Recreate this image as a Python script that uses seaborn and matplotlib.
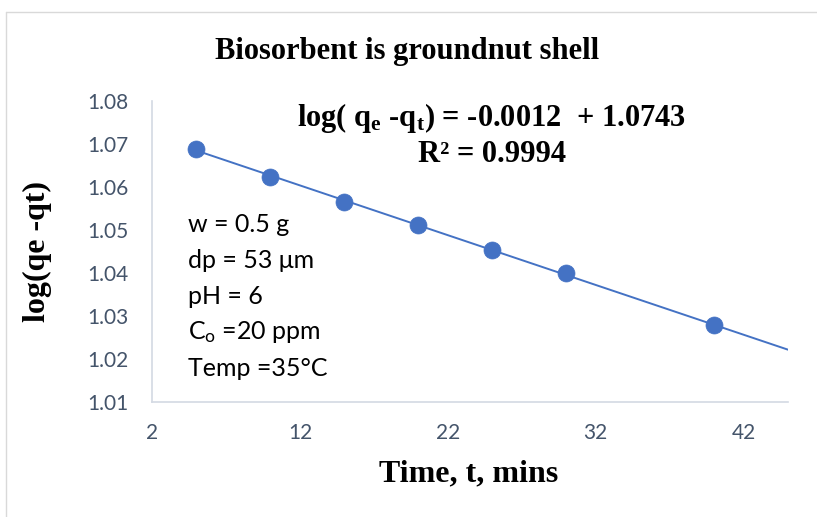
import numpy as np
import pandas as pd
import matplotlib
matplotlib.use("Agg")
import matplotlib.pyplot as plt
from matplotlib.lines import Line2D
import seaborn as sns

# Kinetic data: time (min) vs log(qe - qt)
time_min = [5, 10, 15, 20, 25, 30, 40]
log_qe_qt = [1.0689, 1.0623, 1.0566, 1.0511, 1.0454, 1.0399, 1.0278]

x_ticks = [2, 12, 22, 32, 42]
y_ticks = [1.01, 1.02, 1.03, 1.04, 1.05, 1.06, 1.07, 1.08]

conditions = ["w = 0.5 g", "dp = 53 μm", "pH = 6",
              "C$_{\\mathsf{o}}$ =20 ppm", "Temp =35°C"]

sns.set_theme(style="white")
plt.rcParams["font.family"] = ["Lato", "DejaVu Sans"]
plt.rcParams["text.color"] = "black"
plt.rcParams["mathtext.fontset"] = "custom"
plt.rcParams["mathtext.rm"] = "Liberation Serif:bold"
plt.rcParams["mathtext.it"] = "Liberation Serif:bold"
plt.rcParams["mathtext.bf"] = "Liberation Serif:bold"
plt.rcParams["mathtext.sf"] = "Lato"
plt.rcParams["xtick.major.pad"] = 17
plt.rcParams["ytick.major.pad"] = 17

W, H = 817, 517
fig = plt.figure(figsize=(W / 100, H / 100), dpi=100)
ax = fig.add_axes([152 / W, 1 - 402 / H, (788 - 152) / W, (402 - 101) / H])

df = pd.DataFrame({"t": time_min, "y": log_qe_qt})

# Linear trendline, extended forward to the end of the axis
slope, intercept = np.polyfit(df["t"], df["y"], 1)
trend = pd.DataFrame({"t": [min(time_min), 45.0]})
trend["y"] = intercept + slope * trend["t"]

blue = "#4472C4"
sns.lineplot(data=trend, x="t", y="y", ax=ax, color=blue, linewidth=1.4)
sns.scatterplot(data=df, x="t", y="y", ax=ax, color=blue, s=150,
                edgecolor=blue, linewidth=0.5, zorder=3)

ax.set_xlim(2, 45)
ax.set_ylim(1.01, 1.08)
ax.set_xticks(x_ticks)
ax.set_yticks(y_ticks)
ax.set_yticklabels([f"{v:.2f}" for v in y_ticks])
ax.set_xlabel("")
ax.set_ylabel("")

tick_color = "#44546A"
ax.tick_params(axis="both", length=0, labelsize=15, labelcolor=tick_color)
ax.tick_params(axis="y", pad=17)
ax.tick_params(axis="x", pad=15)
for side in ["top", "right"]:
    ax.spines[side].set_visible(False)
for side in ["left", "bottom"]:
    ax.spines[side].set_color("#D3D9E3")
    ax.spines[side].set_linewidth(1.2)

serif = "Liberation Serif"


def fx(px):
    return px / W


def fy(py):
    return 1 - py / H


fig.text(fx(407), fy(52), "Biosorbent is groundnut shell", family=serif,
         fontweight="bold", fontsize=22, ha="center", va="center", color="black")
fig.text(fx(491), fy(118), "log( q$_{\\mathrm{e}}$ -q$_{\\mathrm{t}}$) = -0.0012  + 1.0743",
         family=serif, fontweight="bold", fontsize=22, ha="center", va="center",
         color="black")
fig.text(fx(492), fy(155), "R² = 0.9994", family=serif, fontweight="bold",
         fontsize=22, ha="center", va="center", color="black")

for i, line in enumerate(conditions):
    fig.text(fx(188), fy(225 + 35.8 * i), line, fontsize=18,
             ha="left", va="center", color="black")

fig.text(fx(37), fy(252), "log(qe -qt)", family=serif, fontweight="bold",
         fontsize=23, rotation=90, ha="center", va="center", color="black")
fig.text(fx(469), fy(474), "Time, t, mins", family=serif, fontweight="bold",
         fontsize=23, ha="center", va="center", color="black")

# Chart-area frame
frame_color = "#D9D9D9"
fig.add_artist(Line2D([fx(6), 1], [fy(12), fy(12)], color=frame_color, linewidth=1))
fig.add_artist(Line2D([fx(6), fx(6)], [0, fy(12)], color=frame_color, linewidth=1))

fig.savefig("out.png", dpi=100)
